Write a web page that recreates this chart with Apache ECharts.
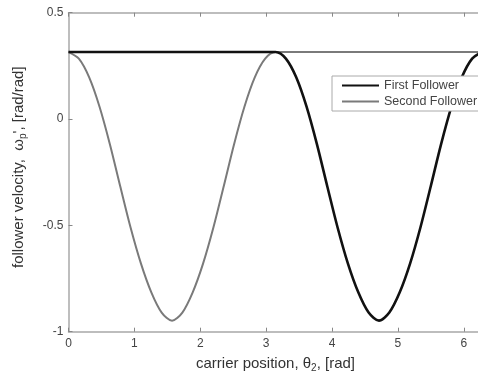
<!DOCTYPE html>
<html>
<head>
<meta charset="utf-8">
<script src="https://cdn.jsdelivr.net/npm/echarts@6/dist/echarts.min.js"></script>
<style>
html,body{margin:0;padding:0;background:#fff;}
#c{width:478px;height:373px;}
</style>
</head>
<body>
<div id="c"></div>
<script>
// carrier position (rad)
const carrierPos = [0, 0.157, 0.314, 0.471, 0.628, 0.785, 0.942, 1.100, 1.257, 1.414, 1.571,
  1.728, 1.885, 2.042, 2.199, 2.356, 2.513, 2.670, 2.827, 2.985, 3.142,
  3.299, 3.456, 3.613, 3.770, 3.927, 4.084, 4.241, 4.398, 4.555, 4.712,
  4.869, 5.027, 5.184, 5.341, 5.498, 5.655, 5.812, 5.969, 6.126, 6.283];
// follower velocity (rad/rad)
const firstFollower = [0.315, 0.315, 0.315, 0.315, 0.315, 0.315, 0.315, 0.315, 0.315, 0.315, 0.315,
  0.315, 0.315, 0.315, 0.315, 0.315, 0.315, 0.315, 0.315, 0.315, 0.315,
  0.284, 0.196, 0.058, -0.118, -0.316, -0.510, -0.680, -0.815, -0.910, -0.948,
  -0.910, -0.815, -0.680, -0.510, -0.316, -0.118, 0.058, 0.196, 0.284, 0.315];
const secondFollower = [0.315, 0.284, 0.196, 0.058, -0.118, -0.316, -0.510, -0.680, -0.815, -0.910, -0.948,
  -0.910, -0.815, -0.680, -0.510, -0.316, -0.118, 0.058, 0.196, 0.284, 0.315,
  0.315, 0.315, 0.315, 0.315, 0.315, 0.315, 0.315, 0.315, 0.315, 0.315,
  0.315, 0.315, 0.315, 0.315, 0.315, 0.315, 0.315, 0.315, 0.315, 0.315];
const seriesNames = ['First Follower', 'Second Follower'];
const xTickLabels = [0, 1, 2, 3, 4, 5, 6];
const yTickLabels = [-1, -0.5, 0, 0.5];

const FONT = '"Liberation Sans", Arial, sans-serif';
const axisColor = '#a8a8a8';
const chart = echarts.init(document.getElementById('c'), null, {renderer: 'canvas'});
const pairs = arr => carrierPos.map((x, i) => [x, arr[i]]);
const hiddenSymbol = {color: 'rgba(0,0,0,0)', borderColor: 'rgba(0,0,0,0)', borderWidth: 0};

chart.setOption({
  animation: false,
  backgroundColor: '#fff',
  grid: {left: 68.5, top: 12.7, right: -4.5, bottom: 41.3, containLabel: false, outerBoundsMode: 'none'},
  legend: {
    orient: 'vertical',
    left: 332, top: 76,
    padding: [3, 8, 3, 9],
    itemWidth: 37, itemHeight: 14, itemGap: 3,
    borderColor: '#aaa', borderWidth: 1, borderRadius: 0,
    backgroundColor: '#fff',
    textStyle: {fontFamily: FONT, fontSize: 12.5, color: '#444'},
    data: seriesNames.map(n => ({name: n, itemStyle: hiddenSymbol}))
  },
  xAxis: [{
    type: 'value', min: 0, max: 6.2832, interval: 1,
    axisLine: {show: true, onZero: false, lineStyle: {color: axisColor, width: 1.5}},
    axisTick: {show: true, inside: true, length: 4, lineStyle: {color: '#888'}},
    axisLabel: {fontFamily: FONT, fontSize: 12, color: '#444', margin: 6, showMaxLabel: false,
      formatter: v => (xTickLabels.indexOf(v) >= 0 ? String(v) : '')},
    splitLine: {show: false},
    name: '{a|carrier position, θ}{s|2}{a|, [rad]}',
    nameLocation: 'middle', nameGap: 23,
    nameTextStyle: {rich: {
      a: {fontFamily: FONT, fontSize: 15, color: '#333'},
      s: {fontFamily: FONT, fontSize: 10, color: '#333', padding: [9, 0, 0, 0]}
    }}
  }, {
    type: 'value', position: 'top', min: 0, max: 6.2832, interval: 1,
    axisLine: {show: true, onZero: false, lineStyle: {color: axisColor, width: 1.5}},
    axisTick: {show: true, inside: true, length: 4, lineStyle: {color: '#888'}},
    axisLabel: {show: false}, splitLine: {show: false}
  }],
  yAxis: [{
    type: 'value', min: -1, max: 0.5, interval: 0.5,
    axisLine: {show: true, onZero: false, lineStyle: {color: axisColor, width: 1.5}},
    axisTick: {show: true, inside: true, length: 4, lineStyle: {color: '#888'}},
    axisLabel: {fontFamily: FONT, fontSize: 12, color: '#444', margin: 5,
      formatter: v => (yTickLabels.indexOf(v) >= 0 ? String(v) : '')},
    splitLine: {show: false},
    name: "{a|follower velocity,  ω}{s|p}{a|', [rad/rad]}",
    nameLocation: 'middle', nameGap: 40, nameRotate: 90,
    nameTextStyle: {padding: [0, 0, 0, 10], rich: {
      a: {fontFamily: FONT, fontSize: 15, color: '#333'},
      s: {fontFamily: FONT, fontSize: 10, color: '#333', padding: [9, 0, 0, 0]}
    }}
  }],
  series: [{
    name: seriesNames[1], type: 'line', data: pairs(secondFollower),
    showSymbol: false, symbol: 'none', smooth: 0.3,
    lineStyle: {color: '#7a7a7a', width: 2}, itemStyle: {color: '#7a7a7a'}, z: 2
  }, {
    name: seriesNames[0], type: 'line', data: pairs(firstFollower),
    showSymbol: false, symbol: 'none', smooth: 0.3,
    lineStyle: {color: '#111', width: 2.6}, itemStyle: {color: '#111'}, z: 3
  }]
});
</script>
</body>
</html>
